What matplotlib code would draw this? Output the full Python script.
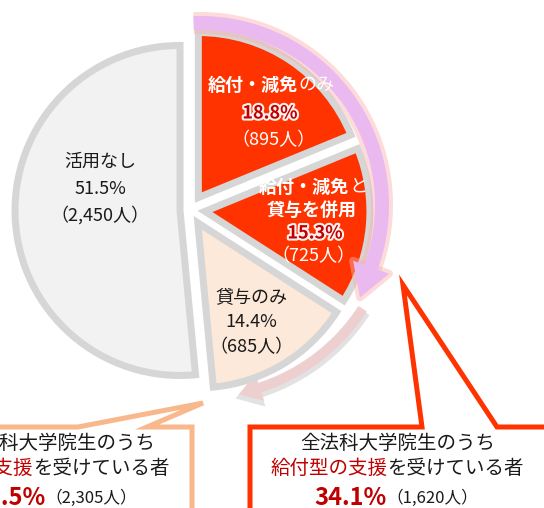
import numpy as np
import matplotlib.pyplot as plt
from matplotlib.patches import Polygon
import matplotlib.patheffects as pe

plt.rcParams['font.family'] = ['Noto Sans CJK JP', 'DejaVu Sans']

# 法科大学院生の経済的支援の活用状況
categories = ['給付・減免のみ', '給付・減免と\n貸与を併用', '貸与のみ', '活用なし']
shares = [18.8, 15.3, 14.4, 51.5]
counts = [895, 725, 685, 2450]
colors = ['#ff3300', '#ff3300', '#fde9d9', '#f2f2f2']

kyufu_share, kyufu_count = 34.1, 1620      # 給付型の支援
shien_share, shien_count = 48.5, 2305      # 何らかの支援

W, H = 544, 508
fig = plt.figure(figsize=(W / 100, H / 100), dpi=100)
ax = fig.add_axes([0, 0, 1, 1])
ax.set_xlim(0, W)
ax.set_ylim(H, 0)
ax.axis('off')

cx, cy, R = 190, 210, 165
PX = 0.72  # points per pixel


def arc_arrow(c, r, a0, a1, width, color, head_w, head_l, z, glow=None, alpha=1.0):
    phi = np.radians(np.linspace(a0, a1, 120))
    xs = c[0] + r * np.cos(phi)
    ys = c[1] - r * np.sin(phi)
    p = np.radians(a1)
    bx, by = xs[-1], ys[-1]
    tx, ty = np.sin(p), np.cos(p)       # direction of travel (clockwise on screen)
    nx, ny = np.cos(p), -np.sin(p)
    head = [(bx + nx * head_w / 2, by + ny * head_w / 2),
            (bx + tx * head_l, by + ty * head_l),
            (bx - nx * head_w / 2, by - ny * head_w / 2)]
    if glow is not None:
        ax.plot(xs, ys, lw=(width + 8) * PX, color=glow, alpha=0.45,
                solid_capstyle='butt', zorder=z)
        ax.add_patch(Polygon(head, closed=True, fc=glow, ec=glow,
                             lw=8 * PX, alpha=0.45, joinstyle='round', zorder=z))
    ax.plot(xs, ys, lw=width * PX, color=color, alpha=alpha,
            solid_capstyle='butt', zorder=z + 0.1)
    ax.add_patch(Polygon(head, closed=True, fc=color, ec='none',
                         alpha=alpha, zorder=z + 0.1))


# faint arrow behind the pie
arc_arrow((200, 205), 195, -33, -72, 14, '#e0dede', 34, 26, 0.5, alpha=0.9)
arc_arrow((200, 203), 194, -33, -72, 10, '#efcdcd', 28, 22, 0.6, alpha=0.9)

wedges, _ = ax.pie(shares, colors=colors, explode=[15, 15, 15, 10],
                   startangle=-90, counterclock=True, radius=R,
                   center=(cx, cy), frame=True,
                   wedgeprops=dict(edgecolor='#d6d6d6', linewidth=7 * PX))
for w in wedges:
    w.set_zorder(1)
ax.set_xlim(0, W)
ax.set_ylim(H, 0)
ax.set_aspect('equal')
ax.axis('off')

renderer = fig.canvas.get_renderer()


def runs(xc, y, parts, z=5, **kw):
    texts = []
    for s, col, size, bold in parts:
        t = ax.text(0, y, s, color=col, fontsize=size, ha='left', va='center',
                    fontweight='bold' if bold else 'normal', zorder=z, **kw)
        texts.append(t)
    widths = [t.get_window_extent(renderer).width for t in texts]
    x = xc - sum(widths) / 2
    for t, w in zip(texts, widths):
        t.set_x(x)
        x += w


# pink arrow around the 給付 slices
arc_arrow((200, 205), 182, 92, -20, 14, '#e9b9f0', 38, 32, 3, glow='#fbb0b0')

glow = [pe.withStroke(linewidth=3, foreground='#fff0f0')]
dark, red, white = '#1a1a1a', '#c00000', 'white'

# slice labels
lab = dict(ha='center', va='center', fontsize=13, zorder=4)
runs(271, 85, [('給付・減免', white, 13, True), ('のみ', white, 13, False)], z=4)
ax.text(270, 113, f'{shares[0]}%', color=red, fontweight='bold',
        path_effects=glow, **lab)
ax.text(274, 140, f'（{counts[0]:,}人）', color=white, **lab)

runs(313, 187, [('給付・減免', white, 13, True), ('と', white, 13, False)], z=2.5)
ax.text(312, 210, '貸与を併用', color=white, fontweight='bold', **lab)
ax.text(315, 233, f'{shares[1]}%', color=red, fontweight='bold',
        path_effects=glow, **lab)
ax.text(313, 256, f'（{counts[1]:,}人）', color=white, **lab)

ax.text(251, 297, categories[2], color=dark, **lab)
ax.text(251, 322, f'{shares[2]}%', color=dark, **lab)
ax.text(251, 347, f'（{counts[2]:,}人）', color=dark, **lab)

ax.text(100, 162, categories[3], color=dark, **lab)
ax.text(100, 189, f'{shares[3]}%', color=dark, **lab)
ax.text(100, 215, f'（{counts[3]:,}人）', color=dark, **lab)

# callout boxes
ax.add_patch(Polygon([(-20, 427), (78, 427), (203, 403), (147, 427), (192, 427),
                      (192, 530), (-20, 530)], closed=True, fc='white',
                     ec='#f8b88b', lw=5 * PX, joinstyle='miter', zorder=2))
ax.add_patch(Polygon([(250, 427), (422, 427), (403, 285), (497, 427), (570, 427),
                      (570, 530), (250, 530)], closed=True, fc='white',
                     ec='#ff3300', lw=5 * PX, joinstyle='miter', zorder=2))

runs(398, 443, [('全法科大学院生のうち', dark, 14, False)])
runs(397, 468, [('給付型の支援', red, 14, False), ('を受けている者', dark, 14, False)])
runs(396, 498, [(f'{kyufu_share}%', red, 17, True), (f'（{kyufu_count:,}人）', dark, 12, False)])

runs(58, 443, [('全法科大学院生のうち', dark, 14, False)])
runs(53, 468, [('経済的支援', red, 14, False), ('を受けている者', dark, 14, False)])
runs(55, 498, [(f'{shien_share}%', red, 17, True), (f'（{shien_count:,}人）', dark, 12, False)])

fig.savefig('out.png', dpi=100)
